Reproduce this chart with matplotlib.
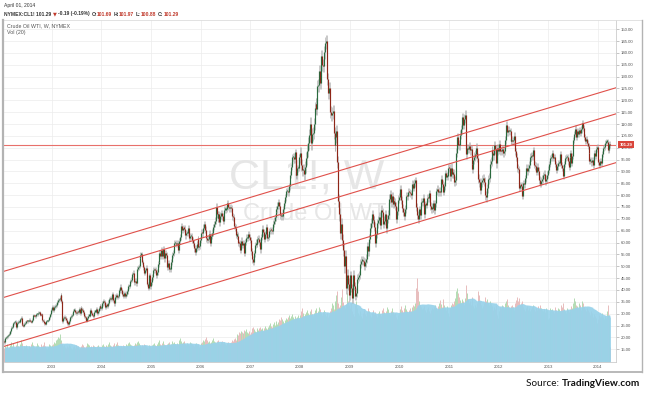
import numpy as np
import pandas as pd
import matplotlib
matplotlib.use("Agg")
import matplotlib.pyplot as plt
import matplotlib.dates as mdates
from matplotlib.lines import Line2D

# weekly closes of NYMEX CL1!, first bar = week of 2002-01-18, one list per year
c2002 = [18.0, 19.7, 20.0, 20.4, 21.0, 21.6, 22.6, 24.0, 24.5, 25.9, 26.3, 26.6, 24.3, 26.1, 26.6, 26.6, 27.6,
         28.2, 25.8, 25.3, 24.8, 25.7, 26.2, 26.9, 26.8, 26.9, 27.5, 26.9, 26.6, 27.4, 29.4, 29.0, 28.9, 29.7,
         29.8, 30.4, 30.7, 29.6, 29.5, 29.3, 27.2, 27.0, 25.9, 25.8, 26.9, 26.9, 27.3, 28.5, 29.7, 31.7]
c2003 = [32.7, 31.7, 32.8, 33.1, 33.5, 34.9, 35.6, 36.0, 36.6, 37.8, 35.4, 26.9, 28.2, 28.6, 28.1, 27.3, 26.1,
         25.8, 27.0, 28.4, 28.9, 29.6, 31.3, 31.5, 30.7, 30.2, 30.7, 30.6, 31.8, 30.3, 32.4, 31.9, 31.4, 30.6,
         29.1, 28.4, 27.1, 28.3, 29.2, 29.2, 31.4, 30.3, 29.6, 29.1, 30.9, 30.9, 31.9, 30.4, 31.0, 32.4, 33.3, 32.5]
c2004 = [32.5, 34.3, 35.3, 34.8, 33.0, 33.6, 33.4, 34.6, 36.2, 36.6, 36.2, 38.1, 35.8, 34.4, 37.1, 37.7, 37.0,
         37.4, 39.9, 40.0, 41.4, 39.9, 38.5, 37.6, 38.7, 37.6, 38.4, 39.4, 41.6, 41.7, 43.8, 44.4, 46.6, 47.3,
         43.2, 43.9, 42.8, 48.9, 49.6, 50.1, 53.3, 54.9, 55.2, 51.8, 49.6, 47.3, 48.4, 49.4, 42.5, 41.0, 46.3,
         41.5, 43.5]
c2005 = [45.4, 48.4, 48.5, 48.3, 46.5, 47.5, 51.1, 51.8, 55.4, 54.4, 56.7, 54.4, 57.3, 53.3, 55.6, 54.6, 49.7,
         51.3, 48.7, 48.7, 51.9, 54.8, 55.6, 59.8, 59.8, 59.4, 59.6, 56.7, 58.6, 60.6, 62.3, 66.9, 65.4, 66.1,
         65.9, 63.0, 64.1, 64.2, 66.2, 61.8, 62.6, 62.6, 61.1, 59.8, 57.5, 56.1, 57.7, 59.3, 61.4, 58.1, 58.4, 61.0]
c2006 = [64.2, 63.9, 66.3, 67.8, 65.4, 61.8, 61.1, 61.5, 63.7, 60.0, 62.7, 64.2, 66.6, 67.9, 69.3, 75.2, 71.9,
         70.2, 72.0, 68.5, 71.4, 72.3, 71.0, 69.2, 73.9, 73.9, 74.1, 76.7, 75.0, 74.5, 74.8, 74.4, 71.1, 70.6,
         67.0, 66.3, 63.3, 62.9, 62.9, 59.8, 59.7, 56.8, 60.8, 59.1, 59.6, 55.8, 60.3, 62.0, 62.0, 63.4, 62.4, 61.1]
c2007 = [56.3, 52.9, 51.9, 55.4, 59.0, 59.9, 59.4, 61.4, 61.6, 60.1, 57.1, 62.3, 65.9, 64.3, 61.5, 63.4, 66.5,
         61.9, 62.4, 64.9, 65.2, 65.1, 65.0, 68.0, 69.2, 70.7, 72.8, 74.0, 75.6, 77.0, 75.5, 71.5, 71.0, 71.1,
         74.0, 76.7, 79.1, 81.6, 81.6, 81.2, 83.7, 88.6, 91.9, 95.9, 96.3, 95.1, 98.2, 88.7, 88.3, 91.3, 91.4, 96.0]
c2008 = [97.9, 92.7, 90.6, 90.7, 89.0, 91.8, 95.5, 98.8, 101.8, 105.2, 110.2, 101.8, 105.6, 106.2, 110.1, 116.7,
         118.5, 116.3, 126.0, 126.3, 132.2, 127.4, 138.5, 134.9, 134.6, 140.2, 144.3, 145.1, 128.9, 123.3, 125.1,
         115.2, 113.8, 114.6, 115.5, 106.2, 101.2, 104.6, 106.9, 93.9, 77.7, 71.9, 64.2, 67.8, 61.0, 57.0, 49.9,
         54.4, 40.8, 46.3, 42.4, 37.7]
c2009 = [46.3, 40.8, 36.5, 46.5, 41.7, 40.2, 37.5, 38.9, 44.8, 45.5, 46.3, 51.1, 52.4, 52.5, 52.2, 50.3, 51.6,
         53.2, 58.6, 56.3, 61.7, 66.3, 68.4, 72.0, 69.6, 69.2, 66.7, 59.9, 63.6, 68.1, 69.5, 70.9, 67.5, 73.9,
         72.7, 68.0, 69.3, 72.0, 66.0, 69.9, 71.8, 78.5, 80.5, 77.0, 79.6, 76.4, 77.5, 77.0, 75.5, 69.9, 73.4, 78.1]
c2010 = [79.4, 82.8, 78.0, 74.5, 72.9, 71.2, 74.1, 79.8, 79.7, 81.5, 81.2, 80.7, 80.0, 84.9, 84.3, 83.2, 85.1,
         86.2, 75.1, 71.6, 70.0, 74.0, 71.5, 77.0, 77.2, 79.0, 72.1, 76.1, 76.0, 79.0, 78.9, 80.7, 75.4, 74.0,
         75.2, 74.6, 76.5, 73.7, 76.5, 81.6, 82.7, 81.3, 81.7, 81.4, 86.9, 84.9, 81.5, 83.8, 89.2, 87.8, 88.0,
         91.5, 91.4]
c2011 = [88.0, 91.5, 89.1, 89.3, 89.0, 85.6, 86.2, 97.9, 104.4, 101.2, 101.1, 105.4, 107.9, 112.8, 109.7, 112.3,
         113.9, 97.2, 99.7, 99.5, 100.6, 99.0, 99.3, 93.0, 91.2, 94.9, 96.2, 97.2, 99.9, 95.7, 86.9, 85.4, 82.3,
         85.4, 86.5, 87.2, 85.7, 79.9, 79.2, 83.0, 86.8, 87.4, 93.3, 94.3, 99.0, 97.7, 96.8, 101.0, 99.4, 93.5,
         99.7, 98.8]
c2012 = [101.6, 98.7, 98.5, 99.6, 97.8, 98.7, 103.2, 109.8, 106.7, 107.4, 106.9, 106.9, 103.0, 103.3, 102.8,
         103.1, 104.9, 98.5, 96.1, 91.5, 90.9, 83.2, 84.1, 84.0, 79.8, 85.0, 84.5, 87.1, 91.4, 90.1, 91.4, 92.9,
         96.0, 96.2, 96.5, 96.4, 98.9, 92.9, 92.2, 89.9, 91.9, 90.1, 86.3, 84.9, 86.1, 86.9, 88.3, 88.9, 85.9,
         86.7, 88.7, 90.8]
c2013 = [93.1, 93.6, 95.6, 95.9, 97.8, 95.7, 95.9, 93.1, 90.7, 92.1, 93.5, 93.7, 97.2, 92.7, 91.3, 88.0, 93.0,
         95.6, 96.0, 96.0, 94.2, 92.0, 96.0, 97.9, 93.7, 96.6, 103.2, 105.9, 108.1, 104.7, 106.9, 106.0, 107.5,
         106.4, 107.7, 110.5, 108.2, 104.7, 102.9, 103.8, 102.0, 100.8, 97.9, 94.6, 94.6, 93.8, 94.8, 92.7, 97.7,
         96.6, 99.3, 100.3]
c2014 = [94.0, 92.7, 94.4, 93.7, 97.5, 99.9, 100.3, 102.2, 102.6, 102.6, 98.9, 99.5, 101.7, 101.29]
first_open = 18.6

# weekly volume (relative units, same week order)
v2002 = [14, 16, 15, 18, 13, 15, 17, 20, 16, 19, 15, 14, 17, 21, 16, 15, 18, 22, 19, 14, 13, 16, 15, 17, 14,
         13, 16, 15, 18, 20, 17, 15, 14, 16, 19, 17, 15, 14, 18, 16, 15, 17, 20, 16, 14, 13, 15, 18, 17, 16]
v2003 = [17, 18, 20, 19, 22, 23, 25, 24, 28, 22, 20, 18, 16, 17, 15, 14, 16, 15, 17, 16, 14, 13, 15, 16, 14,
         17, 15, 16, 13, 14, 15, 16, 18, 17, 15, 14, 16, 19, 18, 17, 15, 16, 14, 17, 16, 15, 14, 16, 17, 15, 14, 13]
v2004 = [15, 17, 18, 16, 15, 17, 16, 18, 20, 17, 16, 15, 17, 19, 16, 18, 20, 17, 16, 15, 14, 16, 15, 17, 16,
         15, 18, 17, 19, 20, 18, 17, 16, 15, 17, 19, 18, 20, 21, 19, 17, 16, 15, 17, 16, 18, 17, 16, 15, 14, 17,
         16, 15]
v2005 = [17, 18, 19, 17, 16, 18, 20, 19, 22, 18, 17, 19, 21, 18, 17, 16, 18, 19, 20, 17, 18, 21, 19, 20, 18,
         17, 19, 18, 20, 22, 24, 21, 19, 20, 21, 18, 17, 19, 18, 17, 20, 19, 18, 17, 16, 18, 19, 17, 16, 18, 15, 16]
v2006 = [19, 20, 22, 21, 23, 25, 22, 20, 21, 19, 20, 22, 24, 21, 20, 19, 21, 22, 20, 19, 18, 20, 21, 19, 20,
         18, 17, 19, 20, 18, 19, 20, 22, 21, 23, 24, 22, 26, 28, 27, 30, 29, 31, 30, 29, 32, 31, 33, 30, 29, 31, 28]
v2007 = [30, 34, 36, 33, 31, 30, 33, 35, 32, 34, 36, 33, 35, 31, 34, 37, 35, 33, 36, 38, 40, 37, 36, 39, 41,
         38, 40, 42, 39, 41, 44, 43, 46, 44, 42, 40, 43, 45, 44, 46, 48, 45, 47, 49, 46, 44, 47, 45, 43, 46, 48, 44]
v2008 = [48, 52, 55, 50, 47, 49, 51, 53, 50, 48, 52, 54, 49, 47, 50, 53, 55, 51, 49, 52, 56, 54, 50, 48, 51,
         53, 49, 47, 50, 46, 48, 52, 55, 60, 58, 54, 57, 62, 68, 72, 60, 56, 58, 66, 74, 61, 57, 55, 59, 70, 62, 58]
v2009 = [55, 60, 52, 49, 47, 53, 58, 62, 55, 50, 48, 52, 47, 45, 50, 53, 49, 47, 51, 55, 52, 48, 46, 50, 53,
         49, 47, 51, 48, 46, 50, 52, 49, 47, 53, 55, 51, 49, 52, 56, 54, 50, 48, 52, 55, 51, 49, 47, 50, 46, 44, 48]
v2010 = [50, 54, 57, 53, 51, 55, 58, 54, 52, 50, 53, 55, 52, 56, 58, 55, 57, 60, 75, 85, 72, 62, 58, 56, 54,
         55, 57, 53, 51, 54, 56, 52, 50, 53, 55, 51, 54, 56, 58, 55, 53, 57, 60, 63, 59, 56, 64, 58, 55, 53, 57,
         50, 47]
v2011 = [55, 58, 60, 57, 59, 62, 65, 72, 75, 70, 66, 63, 60, 64, 62, 58, 65, 78, 70, 64, 60, 62, 58, 66, 60,
         57, 55, 58, 56, 60, 72, 68, 62, 58, 55, 57, 60, 66, 62, 64, 60, 58, 62, 59, 57, 55, 53, 56, 54, 58, 48, 45]
v2012 = [52, 56, 55, 58, 57, 55, 60, 62, 64, 58, 56, 55, 57, 54, 58, 56, 53, 60, 63, 66, 62, 65, 58, 60, 62,
         56, 54, 52, 55, 57, 53, 55, 52, 54, 50, 56, 58, 54, 52, 55, 53, 57, 54, 58, 55, 53, 52, 54, 51, 55, 53, 44]
v2013 = [45, 52, 55, 53, 54, 52, 50, 56, 53, 51, 55, 54, 52, 58, 56, 60, 54, 52, 50, 55, 53, 51, 54, 52, 57,
         55, 60, 65, 62, 58, 57, 55, 60, 58, 53, 62, 60, 56, 54, 52, 55, 53, 51, 50, 48, 52, 50, 46, 49, 47, 45, 40]
v2014 = [44, 48, 46, 47, 50, 46, 44, 47, 45, 52, 58, 48, 46, 15]

# typical wick length per year ($)
wick_years = list(range(2002, 2015))
wick_size = [0.6, 0.8, 1.0, 1.3, 1.4, 1.4, 2.6, 1.8, 1.6, 1.9, 1.6, 1.3, 1.2]

# channel lines drawn on the chart (two anchor points each)
chan_dates = ["2002-01-22", "2014-04-15"]
chan_upper = [48.0, 124.8]
chan_mid = [37.0, 113.8]
chan_low = [16.3, 93.2]
last_price = 101.29

close = np.array(c2002 + c2003 + c2004 + c2005 + c2006 + c2007 + c2008 + c2009 + c2010 + c2011 + c2012
                 + c2013 + c2014)
vol = np.array(v2002 + v2003 + v2004 + v2005 + v2006 + v2007 + v2008 + v2009 + v2010 + v2011 + v2012
               + v2013 + v2014, dtype=float)
dates = pd.date_range("2002-01-18", periods=len(close), freq="W-FRI")

opn = np.r_[first_open, close[:-1]]
up = close >= opn
wmap = dict(zip(wick_years, wick_size))
wk = np.array([wmap[d.year] for d in dates])
body_lo = np.minimum(opn, close)
body_hi = np.maximum(np.maximum(opn, close), body_lo + 0.5)
high = np.maximum(opn, close) + wk
low = body_lo - wk
vol_ma = pd.Series(vol).rolling(20, min_periods=1).mean().values

W, H = 645, 395
fig = plt.figure(figsize=(W / 100, H / 100), dpi=100)


def fx(px):
    return px / W


def fy(py):
    return 1 - py / H


L, R, T, B = 4, 616, 20, 362
rect = [fx(L), fy(B), (R - L) / W, (B - T) / H]
ax_bg = fig.add_axes(rect)
ax_vol = fig.add_axes(rect, sharex=ax_bg)
ax = fig.add_axes(rect, sharex=ax_bg, sharey=ax_bg)
ax_vol.patch.set_visible(False)
ax.patch.set_visible(False)

# price axes
ax.set_xlim(pd.Timestamp("2002-01-15"), pd.Timestamp("2014-05-15"))
ax.set_ylim(9.6, 153.9)
ax.yaxis.tick_right()
ax.set_yticks(np.arange(15, 151, 5))
ax.yaxis.set_major_formatter(plt.FuncFormatter(lambda v, p: f"{v:.2f}"))
ax.xaxis.set_major_locator(mdates.YearLocator())
ax.xaxis.set_major_formatter(mdates.DateFormatter("%Y"))
ax.tick_params(axis="y", length=2, width=0.4, color="#999999", labelsize=3.1, pad=1.2, labelcolor="#555555")
ax.tick_params(axis="x", length=0, labelsize=3.1, pad=2.2, labelcolor="#555555")
for lab in ax.get_xticklabels() + ax.get_yticklabels():
    lab.set_family("Liberation Sans")
for s in ["top", "left"]:
    ax.spines[s].set_visible(False)
for s in ["right", "bottom"]:
    ax.spines[s].set_color("#cccccc")
    ax.spines[s].set_linewidth(0.6)

# grid + watermark in the back
for s in ax_bg.spines.values():
    s.set_visible(False)
ax_bg.tick_params(left=False, labelleft=False, bottom=False, labelbottom=False)
ax_bg.grid(True, color="#ececec", lw=0.5)
ax_bg.text((307 - L) / (R - L), (B - 178) / (B - T), "CL1!, W", transform=ax_bg.transAxes,
           ha="center", va="center", fontsize=31, color="#e6e6e6", family="Liberation Sans")
ax_bg.text((318 - L) / (R - L), (B - 214) / (B - T), "Crude Oil WTI", transform=ax_bg.transAxes,
           ha="center", va="center", fontsize=17, color="#e6e6e6", family="Liberation Sans")

# volume bars, then the 20 week average area on top of them
ax_vol.axis("off")
ax_vol.set_ylim(0, 347)
ax_vol.vlines(dates, 0, vol, colors=np.where(up, "#b3dbb3", "#e8bcbc"), lw=0.7, zorder=1)
ax_vol.fill_between(dates, 0, vol_ma, step="mid", color="#98d2ea", lw=0, alpha=0.93, zorder=2)

# candles
ax.vlines(dates, low, high, color="#aaaaaa", lw=0.45, zorder=2)
cols = np.where(up, "#2a6a3e", "#8e2618")
ax.vlines(dates, body_lo, body_hi, colors=cols, lw=0.85, zorder=3)

# channel lines and last price line
for vals in (chan_upper, chan_mid, chan_low):
    ax.axline((mdates.datestr2num(chan_dates[0]), vals[0]), (mdates.datestr2num(chan_dates[1]), vals[1]),
              color="#e0504a", lw=0.8, zorder=4)
ax.plot([0, 1], [last_price, last_price], transform=ax.get_yaxis_transform(), color="#e8706b", lw=0.8,
        zorder=1.5)
ax.text(1.006, last_price, f"{last_price:.2f}", transform=ax.get_yaxis_transform(), ha="left", va="center",
        fontsize=3.1, color="white", family="Liberation Sans", fontweight="bold", zorder=6, clip_on=False,
        bbox=dict(boxstyle="square,pad=0.35", fc="#d9463c", ec="none"))

# panel frame
fig.add_artist(Line2D([fx(3), fx(642)], [fy(20), fy(20)], color="#dddddd", lw=0.6))
fig.add_artist(Line2D([fx(3), fx(3)], [fy(20), fy(372)], color="#b3b3b3", lw=1.6))
fig.add_artist(Line2D([fx(3), fx(642)], [fy(372), fy(372)], color="#b3b3b3", lw=1.3))
fig.add_artist(Line2D([fx(642), fx(642)], [fy(20), fy(372)], color="#b3b3b3", lw=1.0))

# header texts
renderer = fig.canvas.get_renderer()


def chain(x, y, parts, **kw):
    for s, col, fam, gap in parts:
        t = fig.text(x, y, s, color=col, family=fam, **kw)
        bb = t.get_window_extent(renderer=renderer)
        x = (bb.x1 + gap) / fig.bbox.width


red = "#c0392b"
dark = "#333333"
lib = "Liberation Sans"
fig.text(fx(4), fy(6), "April 01, 2014", fontsize=3.6, va="center", color=dark, family=lib)
chain(fx(4), fy(14), [("NYMEX:CL1! 101.29", dark, lib, 1.5), ("\u25bc", red, "DejaVu Sans", 1.5),
                      ("-0.19 (-0.19%)", dark, lib, 1.5), ("O:", dark, lib, 0.3), ("101.69", red, lib, 1.5),
                      ("H:", dark, lib, 0.3), ("101.97", red, lib, 1.5), ("L:", dark, lib, 0.3),
                      ("100.88", red, lib, 1.5), ("C:", dark, lib, 0.3), ("101.29", red, lib, 0)],
      fontsize=3.6, va="center", fontweight="bold")
fig.text(fx(7), fy(25.5), "Crude Oil WTI, W, NYMEX", fontsize=3.8, va="center", color="#555555", family=lib)
fig.text(fx(7), fy(32.5), "Vol (20)", fontsize=3.8, va="center", color="#555555", family=lib)

# source line
t2 = fig.text(fx(640), fy(383), "TradingView.com", fontsize=7.2, ha="right", va="center", color="#111111",
              family="Lato", fontweight="bold")
bb = t2.get_window_extent(renderer=renderer)
fig.text(bb.x0 / fig.bbox.width, fy(383), "Source: ", fontsize=7.2, ha="right", va="center", color="#111111",
         family="Lato")

fig.savefig("out.png", dpi=100, facecolor="white")
